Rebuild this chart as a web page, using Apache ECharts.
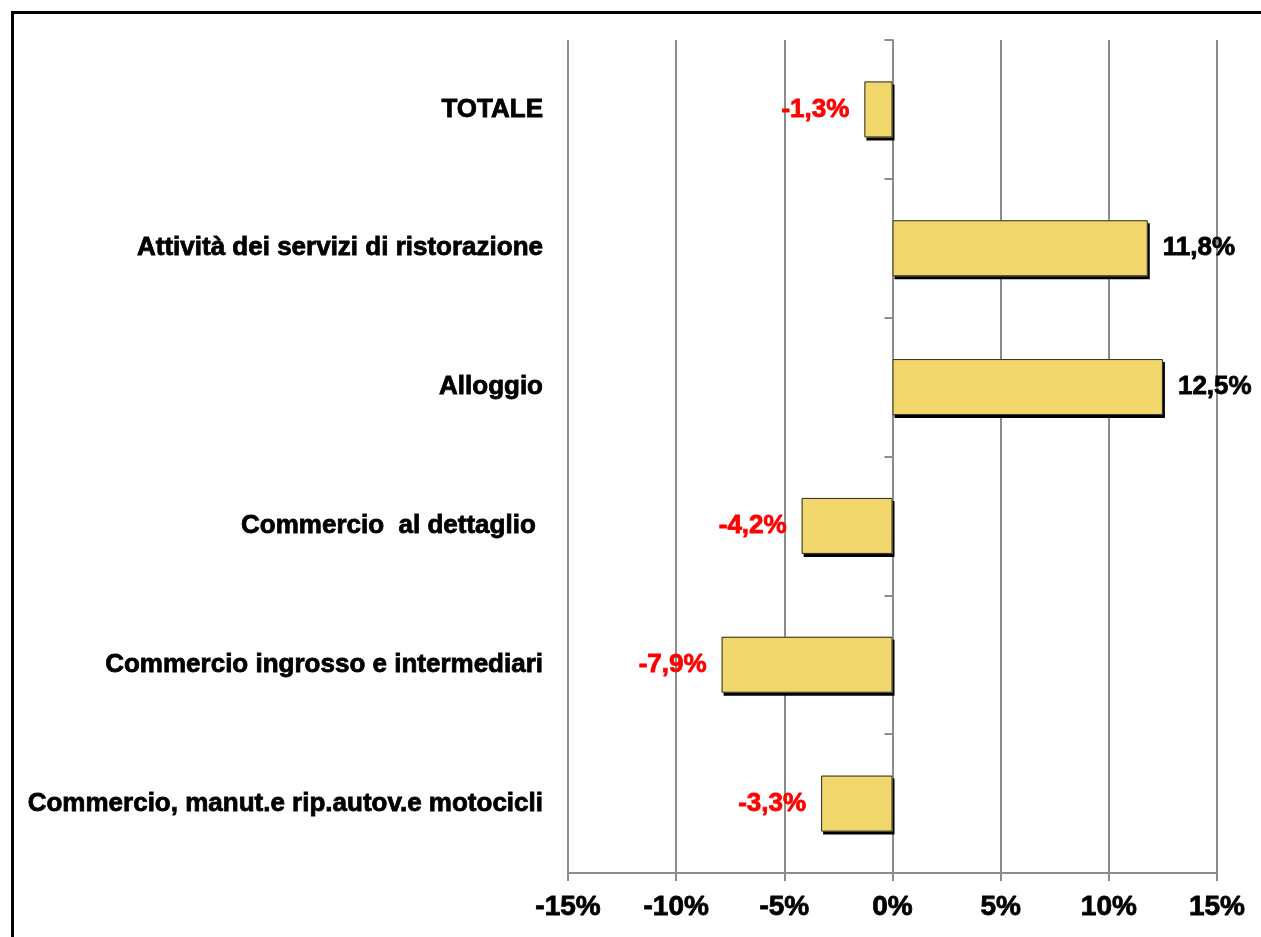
<!DOCTYPE html>
<html>
<head>
<meta charset="utf-8">
<script src="https://cdn.jsdelivr.net/npm/echarts@6/dist/echarts.min.js"></script>
<style>
html,body{margin:0;padding:0;background:#fff;}
#c{width:1261px;height:937px;}
</style>
</head>
<body>
<div id="c"></div>
<script>
const categories = [
  'TOTALE',
  'Attività dei servizi di ristorazione',
  'Alloggio',
  'Commercio  al dettaglio ',
  'Commercio ingrosso e intermediari',
  'Commercio, manut.e rip.autov.e motocicli'
];
const values = [-1.3, 11.8, 12.5, -4.2, -7.9, -3.3];
const xTicks = [-15, -10, -5, 0, 5, 10, 15];

const FONT = 'Liberation Sans';
const chart = echarts.init(document.getElementById('c'), null, {renderer: 'canvas'});

const data = values.map(v => ({
  value: v,
  label: {
    position: v < 0 ? 'left' : 'right',
    color: v < 0 ? '#FF0000' : '#000000',
    textBorderColor: v < 0 ? '#FF0000' : '#000000'
  }
}));

chart.setOption({
  animation: false,
  backgroundColor: '#ffffff',
  grid: {left: 568, right: 44, top: 40, bottom: 64, containLabel: false, outerBoundsMode: 'none'},
  graphic: [{
    type: 'rect',
    shape: {x: 12.5, y: 12.5, width: 1400, height: 1100},
    style: {fill: 'none', stroke: '#000', lineWidth: 3},
    silent: true
  }],
  xAxis: {
    type: 'value',
    min: xTicks[0],
    max: xTicks[xTicks.length - 1],
    interval: 5,
    axisLine: {show: true, onZero: false, lineStyle: {color: '#8c8c8c', width: 2}},
    axisTick: {show: true, length: 8, lineStyle: {color: '#8c8c8c', width: 2}},
    splitLine: {show: true, lineStyle: {color: '#8c8c8c', width: 2}},
    axisLabel: {
      margin: 20,
      color: '#000',
      textBorderColor: '#000',
      textBorderWidth: 0.8,
      fontFamily: FONT,
      fontWeight: 'bold',
      fontSize: 28,
      formatter: v => v + '%'
    }
  },
  yAxis: {
    type: 'category',
    data: categories,
    inverse: true,
    axisLine: {show: true, onZero: true, lineStyle: {color: '#8c8c8c', width: 2}},
    axisTick: {show: true, length: 8, lineStyle: {color: '#8c8c8c', width: 2}},
    splitLine: {show: false},
    axisLabel: {
      margin: 25,
      color: '#000',
      textBorderColor: '#000',
      textBorderWidth: 0.8,
      fontFamily: FONT,
      fontWeight: 'bold',
      fontSize: 26
    }
  },
  series: [{
    type: 'bar',
    data: data,
    barWidth: 56,
    z: 2,
    itemStyle: {
      color: '#F1D76B',
      borderWidth: 0,
      shadowColor: '#000',
      shadowOffsetX: 2,
      shadowOffsetY: 3,
      shadowBlur: 0
    },
    label: {
      show: true,
      distance: 15,
      textBorderWidth: 0.8,
      fontFamily: FONT,
      fontWeight: 'bold',
      fontSize: 26,
      formatter: p => p.value.toFixed(1).replace('.', ',') + '%'
    }
  }, {
    type: 'bar',
    data: values,
    barWidth: 56,
    barGap: '-100%',
    z: 3,
    silent: true,
    itemStyle: {
      color: 'rgba(0,0,0,0)',
      borderColor: '#2a2a2a',
      borderWidth: 1
    },
    label: {show: false}
  }]
});
</script>
</body>
</html>
